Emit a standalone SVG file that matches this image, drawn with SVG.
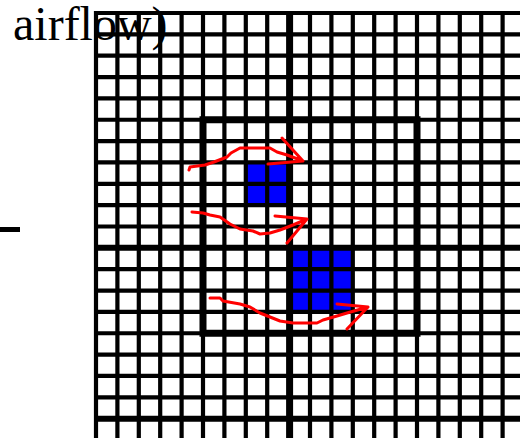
<svg xmlns="http://www.w3.org/2000/svg" width="520" height="438" viewBox="0 0 520 438">
<style>
.txt{font-family:"Liberation Serif","Times New Roman",serif;font-size:48px;fill:#000}
.fine{stroke:#000;stroke-width:4.2;fill:none}
.thick{stroke:#000;stroke-width:7;fill:none}
.blue{fill:#0000ff}
.flow{stroke:#ff0000;stroke-width:3;fill:none;stroke-linejoin:round;stroke-linecap:round}
</style>
<rect width="520" height="438" fill="#fff"/>
<g id="label">
<text class="txt" x="13" y="40">airflow)</text>
<rect x="0" y="227" width="20" height="5" fill="#000"/>
</g>
<g id="blue-cells">
<rect class="blue" x="245.8" y="162.45" width="42.8" height="42.7"/>
<rect class="blue" x="288.6" y="247.85" width="64.2" height="64.05"/>
</g>
<g id="grid">
<path class="fine" d="M96,11V438M117.4,11V438M138.8,11V438M160.2,11V438M181.6,11V438M203,11V438M224.4,11V438M245.8,11V438M267.2,11V438M310,11V438M331.4,11V438M352.8,11V438M374.2,11V438M395.6,11V438M417,11V438M438.4,11V438M459.8,11V438M481.2,11V438M502.6,11V438"/>
<path class="fine" d="M94,13H520M94,34.35H520M94,55.7H520M94,77.05H520M94,98.4H520M94,119.75H520M94,141.1H520M94,162.45H520M94,183.8H520M94,205.15H520M94,226.5H520M94,269.2H520M94,290.55H520M94,311.9H520M94,333.25H520M94,354.6H520M94,375.95H520M94,397.3H520"/>
<path class="thick" d="M289.6,11V438"/>
<path stroke="#000" stroke-width="6" fill="none" d="M94,247.85H520M94,418.65H520"/>
</g>
<g id="patch">
<rect class="thick" x="203" y="119.75" width="214" height="213.5"/>
</g>
<g id="connectors">
<path class="flow" d="M189,170L190,167L205,165L214,162L227,157L231,153L240,148L270,148L277,152L287,155L303,161M282,138L303,161L268,164"/>
<path class="flow" d="M192,212L203,213L210,215L220,217L230,224L240,229L253,231L260,234L270,233L280,230L293,225L307,219M275,216L307,219L287,243"/>
<path class="flow" d="M210,298L220,298L223,301L240,304L250,307L260,313L270,317L280,321L293,323L317,323L323,320L337,316L347,313L368,307M337,304L368,307L347,329"/>
</g>
</svg>
